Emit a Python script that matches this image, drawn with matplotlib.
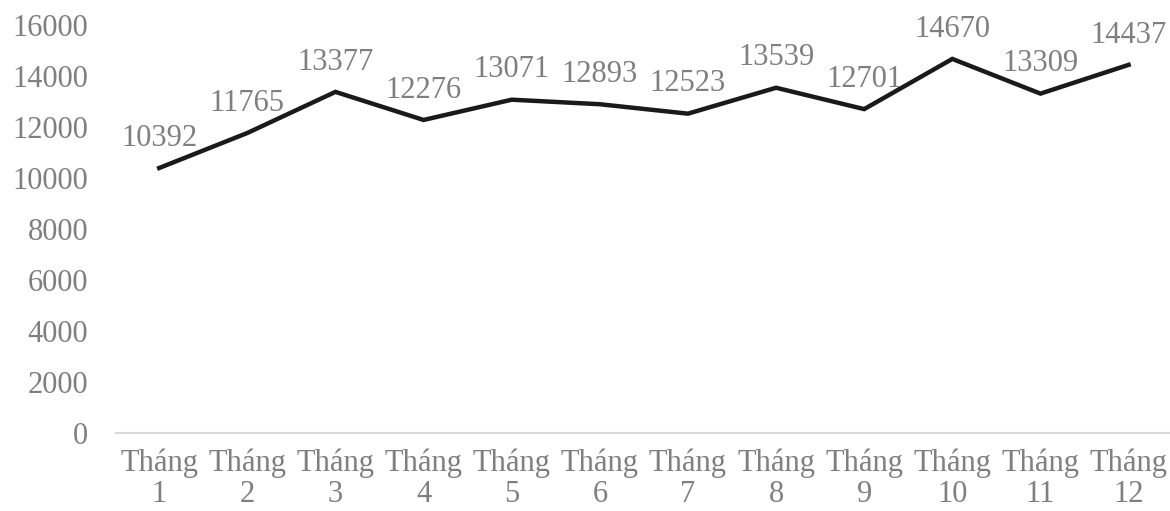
import matplotlib.pyplot as plt

plt.rcParams['font.family'] = ['Liberation Serif', 'DejaVu Serif']

months = ['Tháng\n1', 'Tháng\n2', 'Tháng\n3', 'Tháng\n4', 'Tháng\n5', 'Tháng\n6',
          'Tháng\n7', 'Tháng\n8', 'Tháng\n9', 'Tháng\n10', 'Tháng\n11', 'Tháng\n12']
values = [10392, 11765, 13377, 12276, 13071, 12893,
          12523, 13539, 12701, 14670, 13309, 14437]

grey = '#7f7f7f'

fig = plt.figure(figsize=(11.7, 5.11), dpi=100)
ax = fig.add_axes([116 / 1170, 1 - 433 / 511, 1 - 116 / 1170, (433 - 25) / 511])

x = list(range(len(values)))
ax.plot(x, values, color='#1a1a1a', linewidth=3.2, solid_joinstyle='miter', zorder=3)

for xi, v in zip(x, values):
    ax.annotate(str(v), (xi, v), xytext=(0, 11), textcoords='offset points',
                ha='center', va='bottom', fontsize=22, color=grey)

ax.set_xlim(-0.49, 11.47)
ax.set_ylim(0, 16000)
ax.set_yticks(range(0, 16001, 2000))
ax.set_xticks(x)
ax.set_xticklabels(months, linespacing=1.1)

for s in ('top', 'right', 'left'):
    ax.spines[s].set_visible(False)
ax.spines['bottom'].set_color('#d9d9d9')
ax.spines['bottom'].set_linewidth(1.5)

ax.tick_params(axis='both', length=0, labelsize=22, labelcolor=grey)
ax.tick_params(axis='y', pad=20)
ax.tick_params(axis='x', pad=11)

fig.savefig('out.png', dpi=100)
